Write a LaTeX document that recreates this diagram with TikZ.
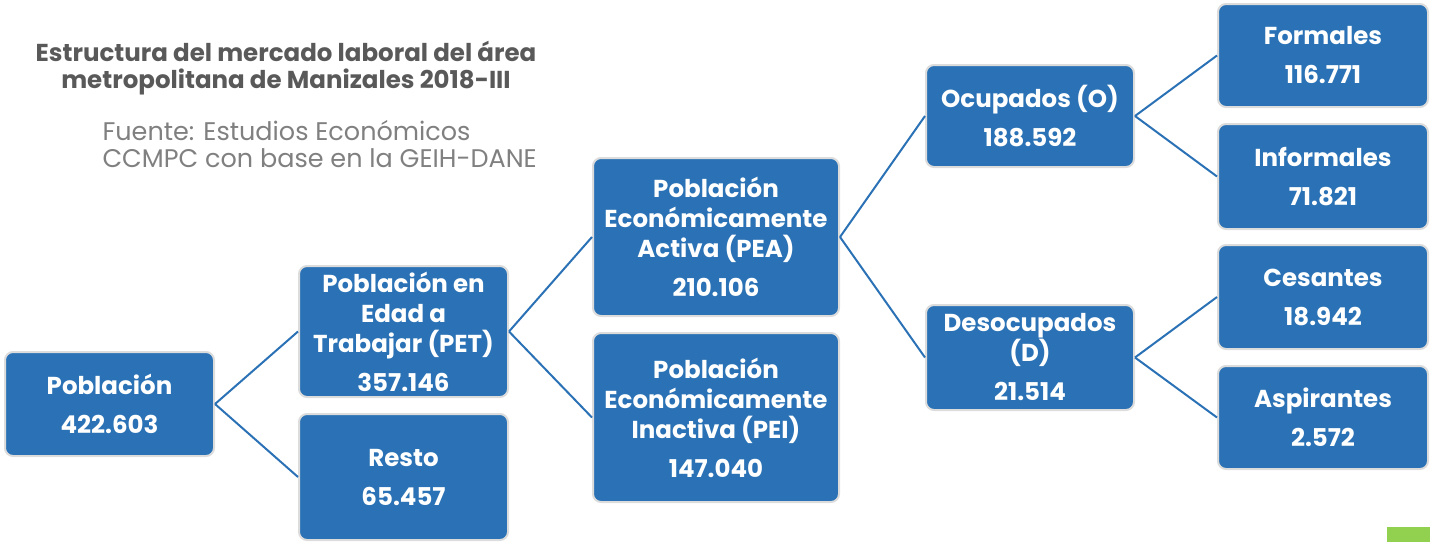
\documentclass[tikz,border=0pt]{standalone}
\usepackage{fontspec}
\setmainfont{Poppins}
\definecolor{boxblue}{RGB}{42,114,181}
\definecolor{boxedge}{RGB}{220,220,220}
\definecolor{titlegray}{RGB}{89,89,89}
\definecolor{srcgray}{RGB}{128,128,128}
\definecolor{accent}{RGB}{146,208,80}
\begin{document}
\begin{tikzpicture}[x=1pt,y=-1pt,
  bx/.style={rounded corners=8pt, fill=boxblue, draw=boxedge, line width=2pt,
    text=white, align=center, inner sep=0pt,
    font=\fontsize{24.5}{30}\selectfont\bfseries},
  conn/.style={draw=boxblue, line width=2pt}]
\useasboundingbox (0,0) rectangle (1430,542);
\fill[accent] (1387,527) rectangle (1430,542);
\node[text=titlegray, align=center, font=\fontsize{24.5}{27}\selectfont\bfseries] (title) at (286,68)
  {Estructura del mercado laboral del área\\metropolitana de Manizales 2018-III};
\node[text=srcgray, align=left, anchor=west, font=\fontsize{25.5}{27}\selectfont] (src) at (99,144)
  {Fuente: Estudios Económicos\\CCMPC con base en la GEIH-DANE};
% boxes
\node[bx, minimum width=209pt, minimum height=104pt] (pob) at (109.5,404) {Población\\[9pt]422.603};
\node[bx, minimum width=209pt, minimum height=131pt] (pet) at (403.5,331.5) {Población en\\Edad a\\Trabajar (PET)\\[9pt]357.146};
\node[bx, minimum width=209pt, minimum height=126pt] (resto) at (403.5,477) {Resto\\[9pt]65.457};
\node[bx, minimum width=246pt, minimum height=158pt] (pea) at (716,237) {Población\\Económicamente\\Activa (PEA)\\[9pt]210.106};
\node[bx, minimum width=246pt, minimum height=169pt] (pei) at (716,417.5) {Población\\Económicamente\\Inactiva (PEI)\\[9pt]147.040};
\node[bx, minimum width=208pt, minimum height=102pt] (ocu) at (1030,116) {Ocupados (O)\\[9pt]188.592};
\node[bx, minimum width=208pt, minimum height=105pt] (des) at (1030,357.5) {Desocupados\\(D)\\[9pt]21.514};
\node[bx, minimum width=210pt, minimum height=103pt] (for) at (1323,55.5) {Formales\\[9pt]116.771};
\node[bx, minimum width=210pt, minimum height=105pt] (inf) at (1323,176.5) {Informales\\[9pt]71.821};
\node[bx, minimum width=210pt, minimum height=104pt] (ces) at (1323,297) {Cesantes\\[9pt]18.942};
\node[bx, minimum width=210pt, minimum height=103pt] (asp) at (1323,417.5) {Aspirantes\\[9pt]2.572};
% connectors
\draw[conn] (pob.east) -- (pet.west);
\draw[conn] (pob.east) -- (resto.west);
\draw[conn] (pet.east) -- (pea.west);
\draw[conn] (pet.east) -- (pei.west);
\draw[conn] (pea.east) -- (ocu.west);
\draw[conn] (pea.east) -- (des.west);
\draw[conn] (ocu.east) -- (for.west);
\draw[conn] (ocu.east) -- (inf.west);
\draw[conn] (des.east) -- (ces.west);
\draw[conn] (des.east) -- (asp.west);
\end{tikzpicture}
\end{document}
